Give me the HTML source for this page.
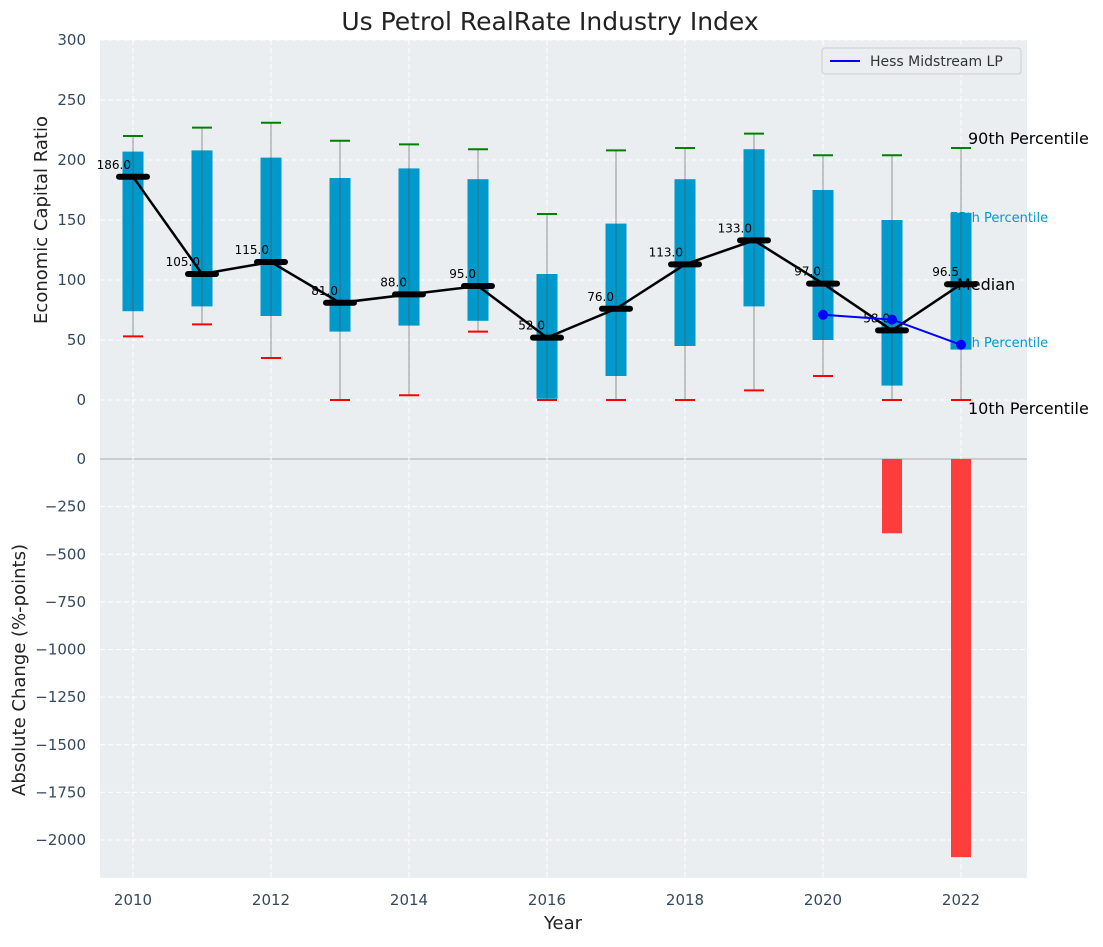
<!DOCTYPE html>
<html><head><meta charset="utf-8"><style>
body{margin:0;background:#fff;font-family:"Liberation Sans","DejaVu Sans",sans-serif}
svg text{font-family:"DejaVu Sans","Liberation Sans",sans-serif}
</style></head><body>
<svg id="c" width="1103" height="942" xmlns="http://www.w3.org/2000/svg"></svg>
<script>
const years=[2010,2011,2012,2013,2014,2015,2016,2017,2018,2019,2020,2021,2022];
const p10=[53,63,35,0,4,57,0,0,0,8,20,0,0];
const q1=[74,78,70,57,62,66,1,20,45,78,50,12,42];
const med=[186,105,115,81,88,95,52,76,113,133,97,58,96.5];
const q3=[207,208,202,185,193,184,105,147,184,209,175,150,156];
const p90=[220,227,231,216,213,209,155,208,210,222,204,204,210];
const hessYears=[2020,2021,2022];
const hessVals=[71,67,46];
const chgYears=[2021,2022];
const chgVals=[-390,-2090];
const topTicks=[0,50,100,150,200,250,300];
const botTicks=[0,-250,-500,-750,-1000,-1250,-1500,-1750,-2000];
const xTicks=[2010,2012,2014,2016,2018,2020,2022];

const L=100,R=1027;
const X=y=>133+(y-2010)*69;
const YT=v=>400-v*1.2;
const YB=v=>459-v*0.1905;
const svg=document.getElementById('c');
const NS='http://www.w3.org/2000/svg';
function el(t,a,txt){const e=document.createElementNS(NS,t);for(const k in a)e.setAttribute(k,a[k]);if(txt!==undefined)e.textContent=txt;svg.appendChild(e);return e;}

let e;
e=el('rect',{x:L,y:40,width:R-L,height:360,fill:'#eaeef0'});

e=el('rect',{x:L,y:400,width:R-L,height:478,fill:'#eaeef0'});

topTicks.forEach(t=>{e=el('line',{x1:L,x2:R,y1:YT(t),y2:YT(t),stroke:'#fff','stroke-dasharray':'5,3'});
 e=el('text',{x:86,y:YT(t)+5,'text-anchor':'end','font-size':15,fill:'#34495e'},t);});
botTicks.forEach(t=>{e=el('line',{x1:L,x2:R,y1:YB(t),y2:YB(t),stroke:'#fff','stroke-dasharray':'5,3'});
 e=el('text',{x:86,y:YB(t)+5,'text-anchor':'end','font-size':15,fill:'#34495e'},t<0?'\u2212'+(-t):t);});
e=el('line',{x1:L,x2:R,y1:YB(0),y2:YB(0),stroke:'#aaa','stroke-width':1});

xTicks.forEach(t=>{[[40,400],[400,878]].forEach(r=>{e=el('line',{x1:X(t),x2:X(t),y1:r[0],y2:r[1],stroke:'#fff','stroke-dasharray':'5,3'});});
 e=el('text',{x:X(t),y:905,'text-anchor':'middle','font-size':15,fill:'#34495e'},t);});
const lx=X(2022);
e=el('text',{x:lx+7,y:144,'font-size':16,fill:'#000'},'90th Percentile');
e=el('text',{x:lx-11,y:222,'font-size':13,fill:'#0099cc'},'75th Percentile');
e=el('text',{x:lx-11,y:347,'font-size':13,fill:'#0099cc'},'25th Percentile');
years.forEach((y,i)=>{
 e=el('rect',{x:X(y)-10.5,y:YT(q3[i]),width:21,height:YT(q1[i])-YT(q3[i]),fill:'#0099cc'});
 e=el('line',{x1:X(y),x2:X(y),y1:YT(p90[i]),y2:YT(p10[i]),stroke:'#555','stroke-opacity':0.6});
 e=el('line',{x1:X(y)-10,x2:X(y)+10,y1:YT(p90[i]),y2:YT(p90[i]),stroke:'green','stroke-width':2});
 e=el('line',{x1:X(y)-10,x2:X(y)+10,y1:YT(p10[i]),y2:YT(p10[i]),stroke:'red','stroke-width':2});
});
e=el('polyline',{points:years.map((y,i)=>X(y)+','+YT(med[i])).join(' '),fill:'none',stroke:'#000','stroke-width':2.5});

years.forEach((y,i)=>{
 e=el('line',{x1:X(y)-14,x2:X(y)+14,y1:YT(med[i]),y2:YT(med[i]),stroke:'#000','stroke-width':6,'stroke-linecap':'round'});
 e=el('text',{x:X(y)-2,y:YT(med[i])-8,'text-anchor':'end','font-size':12,fill:'#000'},med[i].toFixed(1));
});
e=el('text',{x:lx-4,y:290,'font-size':16,fill:'#000'},'Median');
e=el('text',{x:lx+7,y:414,'font-size':16,fill:'#000'},'10th Percentile');
e=el('polyline',{points:hessYears.map((y,i)=>X(y)+','+YT(hessVals[i])).join(' '),fill:'none',stroke:'blue','stroke-width':2});

hessYears.forEach((y,i)=>{e=el('circle',{cx:X(y),cy:YT(hessVals[i]),r:5,fill:'blue'});});
chgYears.forEach((y,i)=>{e=el('rect',{x:X(y)-10,y:YB(0),width:20,height:YB(chgVals[i])-YB(0),fill:'#ff3333','fill-opacity':0.95});});
e=el('rect',{x:822,y:48,width:199,height:26,rx:3,fill:'#eaeef0',stroke:'#ccc'});
e=el('line',{x1:830,x2:860,y1:61,y2:61,stroke:'blue','stroke-width':2});
e=el('text',{x:870,y:66,'font-size':14,fill:'#333'},'Hess Midstream LP');
e=el('text',{x:550,y:30,'text-anchor':'middle','font-size':25,fill:'#222'},'Us Petrol RealRate Industry Index');
e=el('text',{x:47,y:220,'text-anchor':'middle','font-size':18,fill:'#222',transform:'rotate(-90 47 220)'},'Economic Capital Ratio');
e=el('text',{x:25,y:670,'text-anchor':'middle','font-size':18,fill:'#222',transform:'rotate(-90 25 670)'},'Absolute Change (%-points)');
e=el('text',{x:563,y:929,'text-anchor':'middle','font-size':18,fill:'#222'},'Year');
</script>
</body></html>
